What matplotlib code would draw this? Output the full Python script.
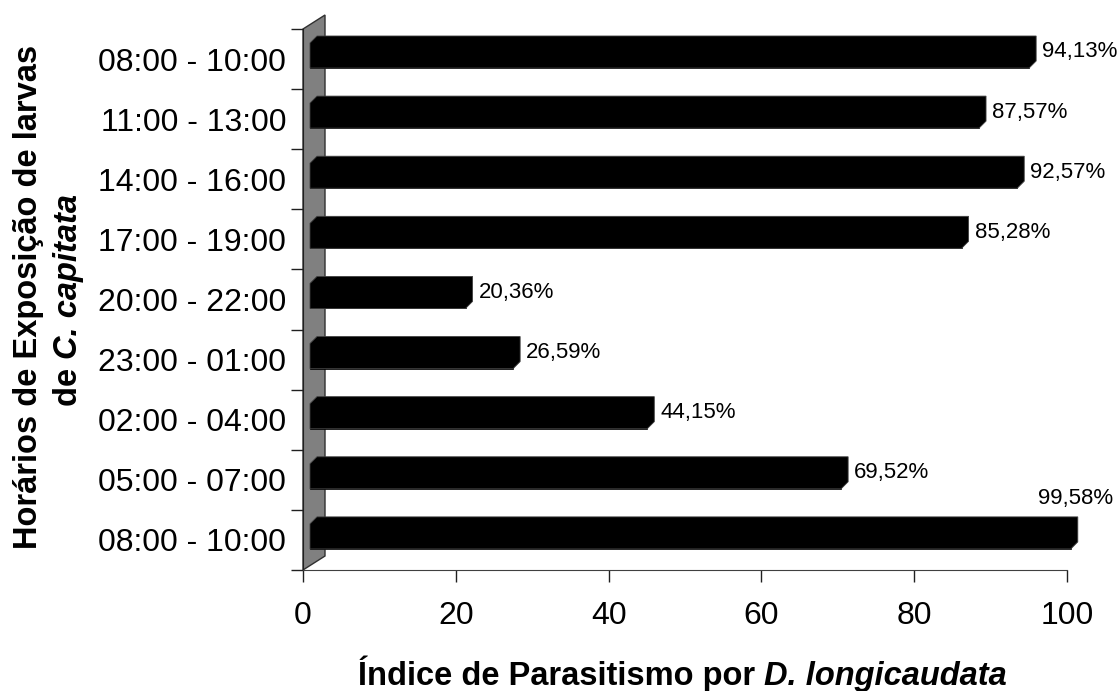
import matplotlib
matplotlib.use('Agg')
import matplotlib.pyplot as plt
from matplotlib.patches import Polygon

plt.rcParams['font.family'] = ['Liberation Sans', 'DejaVu Sans']

# dados (de cima para baixo)
horarios = ['08:00 - 10:00', '11:00 - 13:00', '14:00 - 16:00', '17:00 - 19:00',
            '20:00 - 22:00', '23:00 - 01:00', '02:00 - 04:00', '05:00 - 07:00',
            '08:00 - 10:00']
parasitismo = [94.13, 87.57, 92.57, 85.28, 20.36, 26.59, 44.15, 69.52, 99.58]
rotulos = ['94,13%', '87,57%', '92,57%', '85,28%', '20,36%', '26,59%',
           '44,15%', '69,52%', '99,58%']
xticks = [0, 20, 40, 60, 80, 100]

W, H = 1120, 691
fig = plt.figure(figsize=(W / 100, H / 100), dpi=100)
ax = fig.add_axes([303 / W, (H - 570) / H, 764 / W, 541 / H])
n = len(horarios)
ax.set_xlim(0, 100)
ax.set_ylim(n - 0.5, -0.5)

# pixel -> unidades de dados
px = 100 / 764
py = n / 541
d = 7  # profundidade do efeito 3D em pixels

# parede lateral cinza
wall = Polygon([(0, n - 0.5), (0, -0.5), (22 * px, -0.5 - 14 * py),
                (22 * px, n - 0.5 - 14 * py)],
               closed=True, facecolor='#808080', edgecolor='#303030',
               lw=1, clip_on=False, zorder=1)
ax.add_patch(wall)

ys = list(range(n))
# face frontal das barras
ax.barh([i - 0.5 + 26.5 * py for i in ys], parasitismo, left=d * px,
        height=25 * py, color='black', edgecolor='black', lw=0.5,
        clip_on=False, zorder=3)

# contorno completo com faces superior e lateral (efeito 3D)
for i, v in zip(ys, parasitismo):
    top_f = i - 0.5 + 14 * py
    top_b = i - 0.5 + 7 * py
    bot_f = i - 0.5 + 39 * py
    pts = [(d * px, bot_f), (d * px, top_f), (2 * d * px, top_b),
           (v + 2 * d * px, top_b), (v + 2 * d * px, bot_f - d * py),
           (v + d * px, bot_f)]
    ax.add_patch(Polygon(pts, closed=True, facecolor='black',
                         edgecolor='#404040', lw=0.6, clip_on=False, zorder=4))

# rótulos de dados
for i, v, r in zip(ys, parasitismo, rotulos):
    yc = i - 0.5 + 23 * py
    if v > 97:
        ax.text(v + 2 * d * px + 35 * px, i - 0.5 - 11 * py, r, ha='right',
                va='center', fontsize=16, clip_on=False)
    else:
        ax.text(v + 2 * d * px + 6 * px, yc, r, ha='left', va='center',
                fontsize=16, clip_on=False)

# eixos
for s in ['top', 'right']:
    ax.spines[s].set_visible(False)
ax.spines['left'].set_color('#202020')
ax.spines['bottom'].set_color('#404040')
ax.spines['left'].set_zorder(2)

ax.set_xticks(xticks)
ax.set_xticklabels([str(t) for t in xticks])
ax.tick_params(axis='x', direction='out', length=8.6, width=1,
               color='#202020', labelsize=23, pad=14)
ax.set_yticks(ys)
ax.set_yticklabels(horarios)
ax.set_yticks([i - 0.5 for i in range(n + 1)], minor=True)
ax.tick_params(axis='y', which='major', length=0, labelsize=23, pad=12)
ax.tick_params(axis='y', which='minor', direction='out', length=8.6,
               width=1, color='#202020')

# títulos dos eixos com partes em itálico
fig.canvas.draw()
r = fig.canvas.get_renderer()
fs = 23.5

t1 = fig.text(0, 6 / H, 'Índice de Parasitismo por ', fontsize=fs,
              fontweight='bold', ha='left', va='baseline')
t2 = fig.text(0, 6 / H, 'D. longicaudata', fontsize=fs, fontweight='bold',
              fontstyle='italic', ha='left', va='baseline')
w1 = t1.get_window_extent(r).width
w2 = t2.get_window_extent(r).width
x0 = 682 - (w1 + w2) / 2
t1.set_x(x0 / W)
t2.set_x((x0 + w1) / W)

l1 = fig.text(37 / W, 0, 'Horários de Exposição de larvas', fontsize=fs,
              fontweight='bold', rotation=90, rotation_mode='anchor',
              ha='left', va='baseline')
h1 = l1.get_window_extent(r).height
l1.set_y((H - 296.5 - h1 / 2) / H)

l2a = fig.text(77 / W, 0, 'de ', fontsize=fs, fontweight='bold', rotation=90,
               rotation_mode='anchor', ha='left', va='baseline')
l2b = fig.text(77 / W, 0, 'C. capitata', fontsize=fs, fontweight='bold',
               fontstyle='italic', rotation=90, rotation_mode='anchor',
               ha='left', va='baseline')
ha_ = l2a.get_window_extent(r).height
hb_ = l2b.get_window_extent(r).height
y0 = H - 300 - (ha_ + hb_) / 2
l2a.set_y(y0 / H)
l2b.set_y((y0 + ha_) / H)

fig.savefig('out.png', dpi=100)
